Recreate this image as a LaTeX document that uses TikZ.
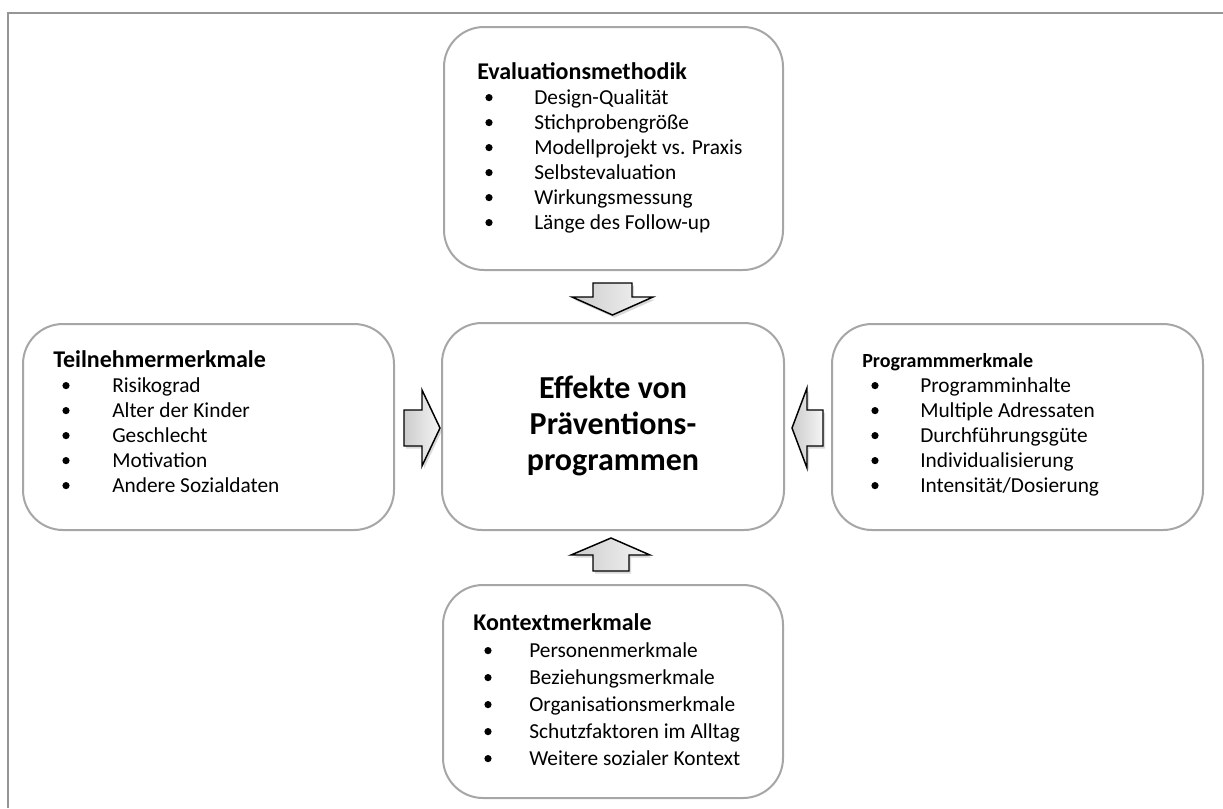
\documentclass[tikz,border=0pt]{standalone}
\usepackage{fontspec}
\setmainfont{Carlito}
\usetikzlibrary{shadows}
\definecolor{boxgray}{RGB}{166,166,166}
\definecolor{framegray}{RGB}{150,150,150}
\tikzset{
  panel/.style={draw=boxgray, line width=1.5pt, rounded corners=30pt, fill=white, inner sep=0pt},
  head/.style={anchor=base west, inner sep=0pt, font=\fontsize{18}{21}\selectfont\bfseries},
  headsmall/.style={anchor=base west, inner sep=0pt, font=\fontsize{15}{18}\selectfont\bfseries},
  itm/.style={anchor=base west, inner sep=0pt, font=\fontsize{16}{19}\selectfont},
  bul/.style={circle, fill=black, inner sep=0pt, minimum size=5.4pt, yshift=4.8pt},
  blockarrow/.style={draw=black, line width=1.1pt, line join=miter, left color=gray!40, right color=gray!8,
     drop shadow={shadow xshift=1.5pt, shadow yshift=-2pt, opacity=0.3}},
  title/.style={align=center, inner sep=0pt, font=\fontsize{24}{27}\selectfont\bfseries}
}
\begin{document}
\begin{tikzpicture}[x=0.75pt,y=-0.75pt]
\useasboundingbox (0,0) rectangle (1223,808);
% frame
\coordinate (fbl) at (8,808);
\coordinate (ftl) at (8,12.5);
\coordinate (ftr) at (1223,12.5);
\draw[framegray, line width=1.5pt] (fbl) -- (ftl) -- (ftr);

% boxes
\node[panel, minimum width=339*0.75pt, minimum height=243*0.75pt] (top) at (613.5,148.5) {};
\node[panel, minimum width=342*0.75pt, minimum height=207*0.75pt] (mid) at (613,426.5) {};
\node[panel, minimum width=371*0.75pt, minimum height=206*0.75pt] (left) at (208.5,427) {};
\node[panel, minimum width=371*0.75pt, minimum height=206*0.75pt] (right) at (1017.5,427) {};
\node[panel, minimum width=340*0.75pt, minimum height=213*0.75pt] (bot) at (613,691.5) {};

% block arrows
\path[blockarrow] (593,283) -- (632,283) -- (632,297) -- (653,297) -- (612.5,315) -- (572,297) -- (593,297) -- cycle;
\path[blockarrow] (593,571) -- (629,571) -- (629,555) -- (650,555) -- (611,538) -- (571,555) -- (593,555) -- cycle;
\path[blockarrow] (404,410) -- (422,410) -- (422,390) -- (440,428) -- (422,466) -- (422,446) -- (404,446) -- cycle;
\path[blockarrow] (823,410) -- (807,410) -- (807,388) -- (792,428) -- (807,468) -- (807,446) -- (823,446) -- cycle;

% centre title
\node[title] (ttl) at (613,426) {Effekte von\\Präventions-\\programmen};

% top box
\node[head] (tophead) at (477,79) {Evaluationsmethodik};
\foreach \t [count=\i] in {Design-Qualität,Stichprobengröße,Modellprojekt vs. Praxis,Selbstevaluation,Wirkungsmessung,Länge des Follow-up}{
  \node[bul] (topb\i) at (489,{79+25*\i}) {};
  \node[itm] (topt\i) at (534,{79+25*\i}) {\t};
}
% left box
\node[head] (lefthead) at (53,367) {Teilnehmermerkmale};
\foreach \t [count=\i] in {Risikograd,Alter der Kinder,Geschlecht,Motivation,Andere Sozialdaten}{
  \node[bul] (leftb\i) at (66,{367+25*\i}) {};
  \node[itm] (leftt\i) at (112,{367+25*\i}) {\t};
}
% right box
\node[headsmall] (righthead) at (862,367) {Programmmerkmale};
\foreach \t [count=\i] in {Programminhalte,Multiple Adressaten,Durchführungsgüte,Individualisierung,Intensität/Dosierung}{
  \node[bul] (rightb\i) at (875,{367+25*\i}) {};
  \node[itm] (rightt\i) at (920,{367+25*\i}) {\t};
}
% bottom box
\node[head] (bothead) at (473,630) {Kontextmerkmale};
\foreach \t [count=\i] in {Personenmerkmale,Beziehungsmerkmale,Organisationsmerkmale,Schutzfaktoren im Alltag,Weitere sozialer Kontext}{
  \node[bul] (botb\i) at (488,{630+27*\i}) {};
  \node[itm] (bott\i) at (529,{630+27*\i}) {\t};
}
\end{tikzpicture}
\end{document}
